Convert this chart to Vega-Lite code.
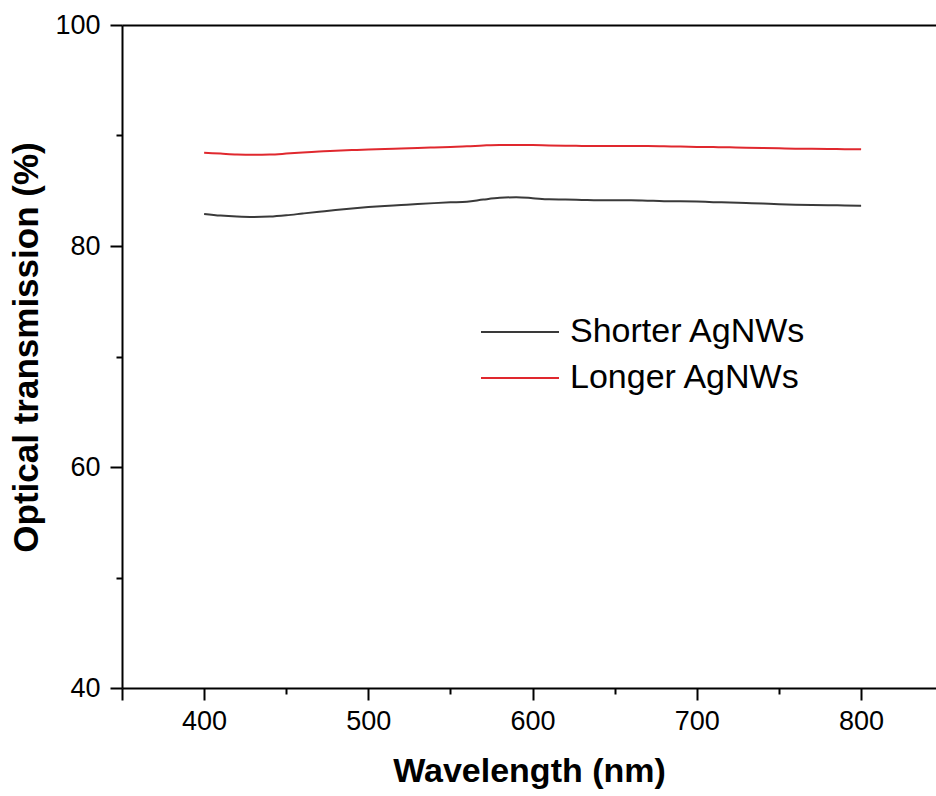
{
  "$schema": "https://vega.github.io/schema/vega-lite/v6.json",
  "autosize": "none",
  "width": 814,
  "height": 663,
  "padding": {"left": 122, "top": 25, "right": 0, "bottom": 108},
  "background": "white",
  "config": {
    "view": {"stroke": null},
    "font": "Liberation Sans",
    "axis": {
      "domainColor": "#000",
      "domainWidth": 2,
      "tickColor": "#000",
      "tickWidth": 2,
      "labelColor": "#000",
      "labelFont": "Liberation Sans",
      "labelFontSize": 27,
      "titleFont": "Liberation Sans",
      "titleFontWeight": "bold",
      "titleColor": "#000",
      "grid": false
    }
  },
  "data": {
    "values": [
      {"wavelength": 400, "transmission": 82.90, "sample": "Shorter AgNWs"},
      {"wavelength": 410, "transmission": 82.75, "sample": "Shorter AgNWs"},
      {"wavelength": 420, "transmission": 82.66, "sample": "Shorter AgNWs"},
      {"wavelength": 430, "transmission": 82.62, "sample": "Shorter AgNWs"},
      {"wavelength": 440, "transmission": 82.66, "sample": "Shorter AgNWs"},
      {"wavelength": 450, "transmission": 82.78, "sample": "Shorter AgNWs"},
      {"wavelength": 460, "transmission": 82.94, "sample": "Shorter AgNWs"},
      {"wavelength": 470, "transmission": 83.10, "sample": "Shorter AgNWs"},
      {"wavelength": 480, "transmission": 83.26, "sample": "Shorter AgNWs"},
      {"wavelength": 490, "transmission": 83.40, "sample": "Shorter AgNWs"},
      {"wavelength": 500, "transmission": 83.52, "sample": "Shorter AgNWs"},
      {"wavelength": 510, "transmission": 83.62, "sample": "Shorter AgNWs"},
      {"wavelength": 520, "transmission": 83.71, "sample": "Shorter AgNWs"},
      {"wavelength": 530, "transmission": 83.80, "sample": "Shorter AgNWs"},
      {"wavelength": 540, "transmission": 83.88, "sample": "Shorter AgNWs"},
      {"wavelength": 550, "transmission": 83.95, "sample": "Shorter AgNWs"},
      {"wavelength": 560, "transmission": 84.01, "sample": "Shorter AgNWs"},
      {"wavelength": 570, "transmission": 84.20, "sample": "Shorter AgNWs"},
      {"wavelength": 580, "transmission": 84.36, "sample": "Shorter AgNWs"},
      {"wavelength": 590, "transmission": 84.41, "sample": "Shorter AgNWs"},
      {"wavelength": 600, "transmission": 84.33, "sample": "Shorter AgNWs"},
      {"wavelength": 610, "transmission": 84.22, "sample": "Shorter AgNWs"},
      {"wavelength": 620, "transmission": 84.20, "sample": "Shorter AgNWs"},
      {"wavelength": 630, "transmission": 84.17, "sample": "Shorter AgNWs"},
      {"wavelength": 640, "transmission": 84.14, "sample": "Shorter AgNWs"},
      {"wavelength": 650, "transmission": 84.15, "sample": "Shorter AgNWs"},
      {"wavelength": 660, "transmission": 84.14, "sample": "Shorter AgNWs"},
      {"wavelength": 670, "transmission": 84.10, "sample": "Shorter AgNWs"},
      {"wavelength": 680, "transmission": 84.06, "sample": "Shorter AgNWs"},
      {"wavelength": 690, "transmission": 84.05, "sample": "Shorter AgNWs"},
      {"wavelength": 700, "transmission": 84.02, "sample": "Shorter AgNWs"},
      {"wavelength": 710, "transmission": 83.97, "sample": "Shorter AgNWs"},
      {"wavelength": 720, "transmission": 83.94, "sample": "Shorter AgNWs"},
      {"wavelength": 730, "transmission": 83.89, "sample": "Shorter AgNWs"},
      {"wavelength": 740, "transmission": 83.84, "sample": "Shorter AgNWs"},
      {"wavelength": 750, "transmission": 83.78, "sample": "Shorter AgNWs"},
      {"wavelength": 760, "transmission": 83.74, "sample": "Shorter AgNWs"},
      {"wavelength": 770, "transmission": 83.71, "sample": "Shorter AgNWs"},
      {"wavelength": 780, "transmission": 83.69, "sample": "Shorter AgNWs"},
      {"wavelength": 790, "transmission": 83.67, "sample": "Shorter AgNWs"},
      {"wavelength": 800, "transmission": 83.65, "sample": "Shorter AgNWs"},
      {"wavelength": 400, "transmission": 88.44, "sample": "Longer AgNWs"},
      {"wavelength": 410, "transmission": 88.36, "sample": "Longer AgNWs"},
      {"wavelength": 420, "transmission": 88.28, "sample": "Longer AgNWs"},
      {"wavelength": 430, "transmission": 88.25, "sample": "Longer AgNWs"},
      {"wavelength": 440, "transmission": 88.27, "sample": "Longer AgNWs"},
      {"wavelength": 450, "transmission": 88.36, "sample": "Longer AgNWs"},
      {"wavelength": 460, "transmission": 88.47, "sample": "Longer AgNWs"},
      {"wavelength": 470, "transmission": 88.56, "sample": "Longer AgNWs"},
      {"wavelength": 480, "transmission": 88.62, "sample": "Longer AgNWs"},
      {"wavelength": 490, "transmission": 88.68, "sample": "Longer AgNWs"},
      {"wavelength": 500, "transmission": 88.73, "sample": "Longer AgNWs"},
      {"wavelength": 510, "transmission": 88.78, "sample": "Longer AgNWs"},
      {"wavelength": 520, "transmission": 88.83, "sample": "Longer AgNWs"},
      {"wavelength": 530, "transmission": 88.87, "sample": "Longer AgNWs"},
      {"wavelength": 540, "transmission": 88.92, "sample": "Longer AgNWs"},
      {"wavelength": 550, "transmission": 88.97, "sample": "Longer AgNWs"},
      {"wavelength": 560, "transmission": 89.02, "sample": "Longer AgNWs"},
      {"wavelength": 570, "transmission": 89.10, "sample": "Longer AgNWs"},
      {"wavelength": 580, "transmission": 89.15, "sample": "Longer AgNWs"},
      {"wavelength": 590, "transmission": 89.15, "sample": "Longer AgNWs"},
      {"wavelength": 600, "transmission": 89.14, "sample": "Longer AgNWs"},
      {"wavelength": 610, "transmission": 89.10, "sample": "Longer AgNWs"},
      {"wavelength": 620, "transmission": 89.07, "sample": "Longer AgNWs"},
      {"wavelength": 630, "transmission": 89.06, "sample": "Longer AgNWs"},
      {"wavelength": 640, "transmission": 89.05, "sample": "Longer AgNWs"},
      {"wavelength": 650, "transmission": 89.06, "sample": "Longer AgNWs"},
      {"wavelength": 660, "transmission": 89.05, "sample": "Longer AgNWs"},
      {"wavelength": 670, "transmission": 89.04, "sample": "Longer AgNWs"},
      {"wavelength": 680, "transmission": 89.02, "sample": "Longer AgNWs"},
      {"wavelength": 690, "transmission": 89.00, "sample": "Longer AgNWs"},
      {"wavelength": 700, "transmission": 88.97, "sample": "Longer AgNWs"},
      {"wavelength": 710, "transmission": 88.95, "sample": "Longer AgNWs"},
      {"wavelength": 720, "transmission": 88.93, "sample": "Longer AgNWs"},
      {"wavelength": 730, "transmission": 88.90, "sample": "Longer AgNWs"},
      {"wavelength": 740, "transmission": 88.87, "sample": "Longer AgNWs"},
      {"wavelength": 750, "transmission": 88.84, "sample": "Longer AgNWs"},
      {"wavelength": 760, "transmission": 88.81, "sample": "Longer AgNWs"},
      {"wavelength": 770, "transmission": 88.79, "sample": "Longer AgNWs"},
      {"wavelength": 780, "transmission": 88.78, "sample": "Longer AgNWs"},
      {"wavelength": 790, "transmission": 88.76, "sample": "Longer AgNWs"},
      {"wavelength": 800, "transmission": 88.75, "sample": "Longer AgNWs"}
    ]
  },
  "resolve": {"axis": {"x": "independent", "y": "independent"}},
  "layer": [
    {
      "mark": {"type": "line", "strokeWidth": 2, "interpolate": "monotone"},
      "encoding": {
        "x": {
          "field": "wavelength",
          "type": "quantitative",
          "scale": {"domain": [350, 845.6], "nice": false, "zero": false},
          "axis": {
            "orient": "bottom",
            "title": "Wavelength (nm)",
            "titleFontSize": 34,
            "titlePadding": 20,
            "values": [350, 400, 450, 500, 550, 600, 650, 700, 750, 800],
            "labelExpr": "datum.value % 100 === 0 ? datum.label : ''",
            "tickSize": {"condition": {"test": "datum.value % 100 === 0 || datum.value === 350", "value": 12}, "value": 6},
            "labelPadding": 8,
            "labelFlush": false
          }
        },
        "y": {
          "field": "transmission",
          "type": "quantitative",
          "scale": {"domain": [40, 100], "nice": false, "zero": false},
          "axis": {
            "orient": "left",
            "title": "Optical transmission (%)",
            "titleFontSize": 35,
            "titlePadding": 10,
            "titleY": 322,
            "values": [40, 50, 60, 70, 80, 90, 100],
            "labelExpr": "datum.value % 20 === 0 ? datum.label : ''",
            "tickSize": {"condition": {"test": "datum.value % 20 === 0", "value": 12}, "value": 6},
            "labelPadding": 10,
            "labelFlush": false
          }
        },
        "color": {
          "field": "sample",
          "type": "nominal",
          "scale": {"domain": ["Shorter AgNWs", "Longer AgNWs"], "range": ["#3a3a3a", "#e0282e"]},
          "legend": {
            "title": null,
            "orient": "none",
            "legendX": 371,
            "legendY": 280,
            "symbolType": "M-1.5,0H1.5",
            "symbolSize": 2704,
            "symbolStrokeWidth": 2,
            "symbolFillColor": "transparent",
            "labelFontSize": 34,
            "labelFont": "Liberation Sans",
            "labelColor": "#000",
            "labelOffset": 23,
            "labelLimit": 400,
            "rowPadding": 2,
            "padding": 0
          }
        }
      }
    },
    {
      "mark": {"type": "line", "opacity": 0},
      "encoding": {
        "x": {
          "field": "wavelength",
          "type": "quantitative",
          "axis": {"orient": "top", "title": null, "labels": false, "ticks": false, "domainWidth": 2}
        },
        "y": {"field": "transmission", "type": "quantitative", "axis": null},
        "detail": {"field": "sample"}
      }
    }
  ]
}
